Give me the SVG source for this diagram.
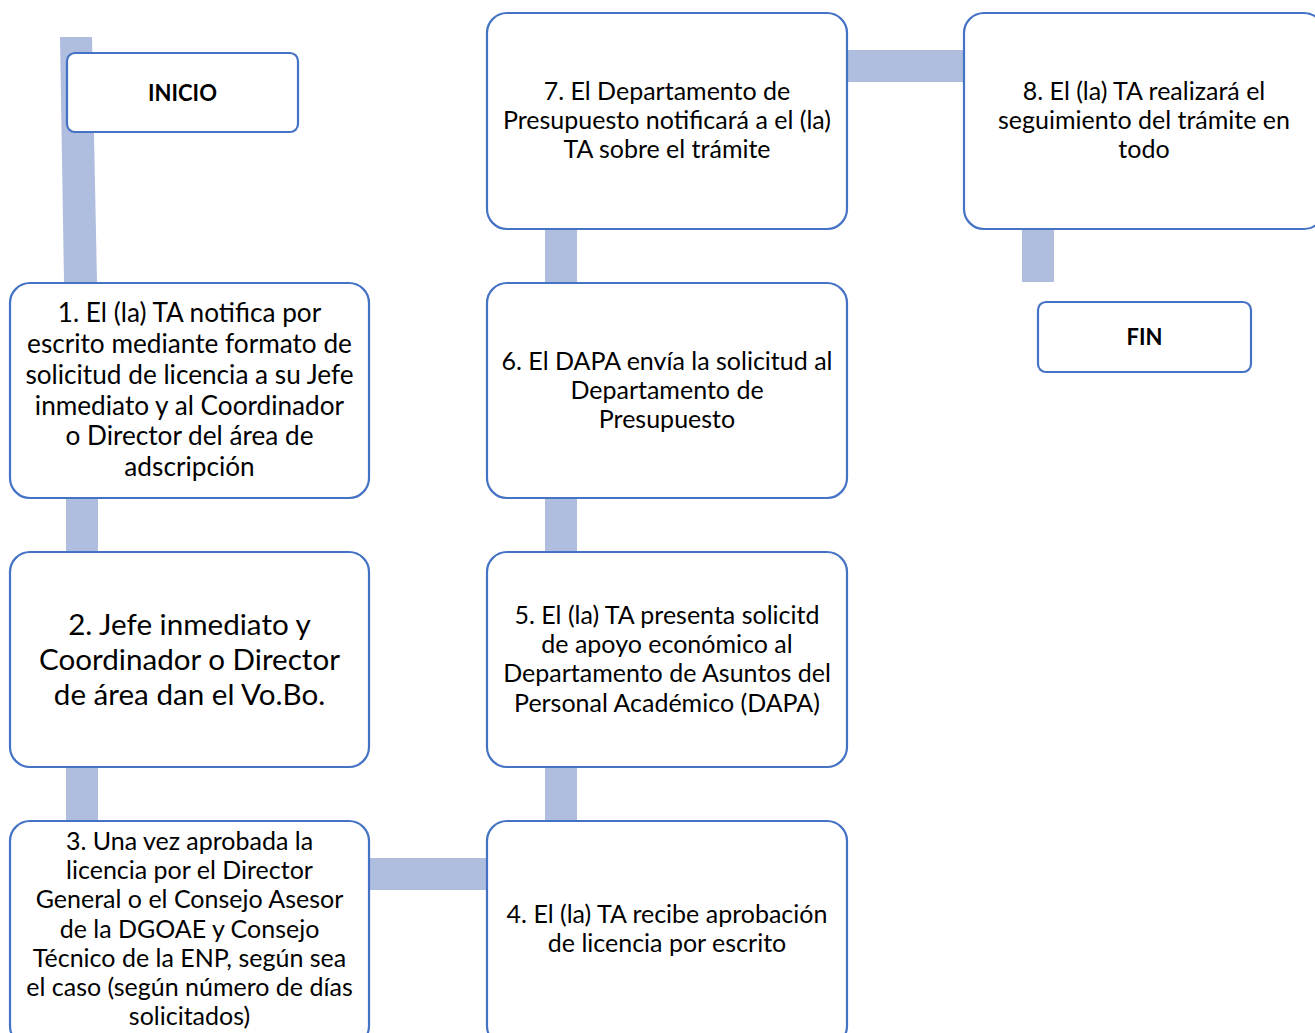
<svg xmlns="http://www.w3.org/2000/svg" width="1315" height="1033" viewBox="0 0 1315 1033">
<style>
.box{fill:#fff;stroke:#4472C4;stroke-width:2.2}
.con{fill:#AFBDDE;stroke:none}
text{font-family:Lato,"Open Sans",sans-serif;fill:#000;text-anchor:middle}
.t{font-size:25px}
.t1{font-size:26.2px}
.t2{font-size:29.6px}
.b{font-size:22px;font-weight:bold}
</style>
<rect width="1315" height="1033" fill="#fff"/>
<g id="connectors">
<polygon class="con" points="60,37 92,37 97,282 64,282"/>
<rect class="con" x="66" y="497" width="32" height="56"/>
<rect class="con" x="66" y="766" width="32" height="56"/>
<rect class="con" x="368" y="858" width="120" height="32"/>
<rect class="con" x="545" y="766" width="32" height="56"/>
<rect class="con" x="545" y="497" width="32" height="56"/>
<rect class="con" x="545" y="228" width="32" height="56"/>
<rect class="con" x="846" y="50" width="119" height="32"/>
<rect class="con" x="1022" y="228" width="32" height="54"/>
</g>
<g id="inicio">
<rect class="box" x="67" y="53" width="231" height="79" rx="8"/>
<text class="b" x="182.5" y="101">INICIO</text>
</g>
<g id="step1">
<rect class="box" x="10" y="283" width="359" height="215" rx="20"/>
<text class="t1" x="189.5"><tspan x="189.5" y="322">1. El (la) TA notifica por</tspan><tspan x="189.5" y="353">escrito mediante formato de</tspan><tspan x="189.5" y="384">solicitud de licencia a su Jefe</tspan><tspan x="189.5" y="415">inmediato y al Coordinador</tspan><tspan x="189.5" y="445">o Director del área de</tspan><tspan x="189.5" y="476">adscripción</tspan></text>
</g>
<g id="step2">
<rect class="box" x="10" y="552" width="359" height="215" rx="20"/>
<text class="t2" x="189.5"><tspan x="189.5" y="635">2. Jefe inmediato y</tspan><tspan x="189.5" y="670">Coordinador o Director</tspan><tspan x="189.5" y="705">de área dan el Vo.Bo.</tspan></text>
</g>
<g id="step3">
<rect class="box" x="10" y="821" width="359" height="225" rx="20"/>
<text class="t" x="189.5"><tspan x="189.5" y="850">3. Una vez aprobada la</tspan><tspan x="189.5" y="879">licencia por el Director</tspan><tspan x="189.5" y="908">General o el Consejo Asesor</tspan><tspan x="189.5" y="938">de la DGOAE y Consejo</tspan><tspan x="189.5" y="967">Técnico de la ENP, según sea</tspan><tspan x="189.5" y="996">el caso (según número de días</tspan><tspan x="189.5" y="1025">solicitados)</tspan></text>
</g>
<g id="step4">
<rect class="box" x="487" y="821" width="360" height="225" rx="20"/>
<text class="t" x="667"><tspan x="667" y="923">4. El (la) TA recibe aprobación</tspan><tspan x="667" y="952">de licencia por escrito</tspan></text>
</g>
<g id="step5">
<rect class="box" x="487" y="552" width="360" height="215" rx="20"/>
<text class="t" x="667"><tspan x="667" y="624">5. El (la) TA presenta solicitd</tspan><tspan x="667" y="653">de apoyo económico al</tspan><tspan x="667" y="682">Departamento de Asuntos del</tspan><tspan x="667" y="712">Personal Académico (DAPA)</tspan></text>
</g>
<g id="step6">
<rect class="box" x="487" y="283" width="360" height="215" rx="20"/>
<text class="t" x="667"><tspan x="667" y="370">6. El DAPA envía la solicitud al</tspan><tspan x="667" y="399">Departamento de</tspan><tspan x="667" y="428">Presupuesto</tspan></text>
</g>
<g id="step7">
<rect class="box" x="487" y="13" width="360" height="216" rx="20"/>
<text class="t" x="667"><tspan x="667" y="100">7. El Departamento de</tspan><tspan x="667" y="129">Presupuesto notificará a el (la)</tspan><tspan x="667" y="158">TA sobre el trámite</tspan></text>
</g>
<g id="step8">
<rect class="box" x="964" y="13" width="360" height="216" rx="20"/>
<text class="t" x="1144"><tspan x="1144" y="100">8. El (la) TA realizará el</tspan><tspan x="1144" y="129">seguimiento del trámite en</tspan><tspan x="1144" y="158">todo</tspan></text>
</g>
<g id="fin">
<rect class="box" x="1038" y="302" width="213" height="70" rx="8"/>
<text class="b" x="1144.5" y="345">FIN</text>
</g>
</svg>
